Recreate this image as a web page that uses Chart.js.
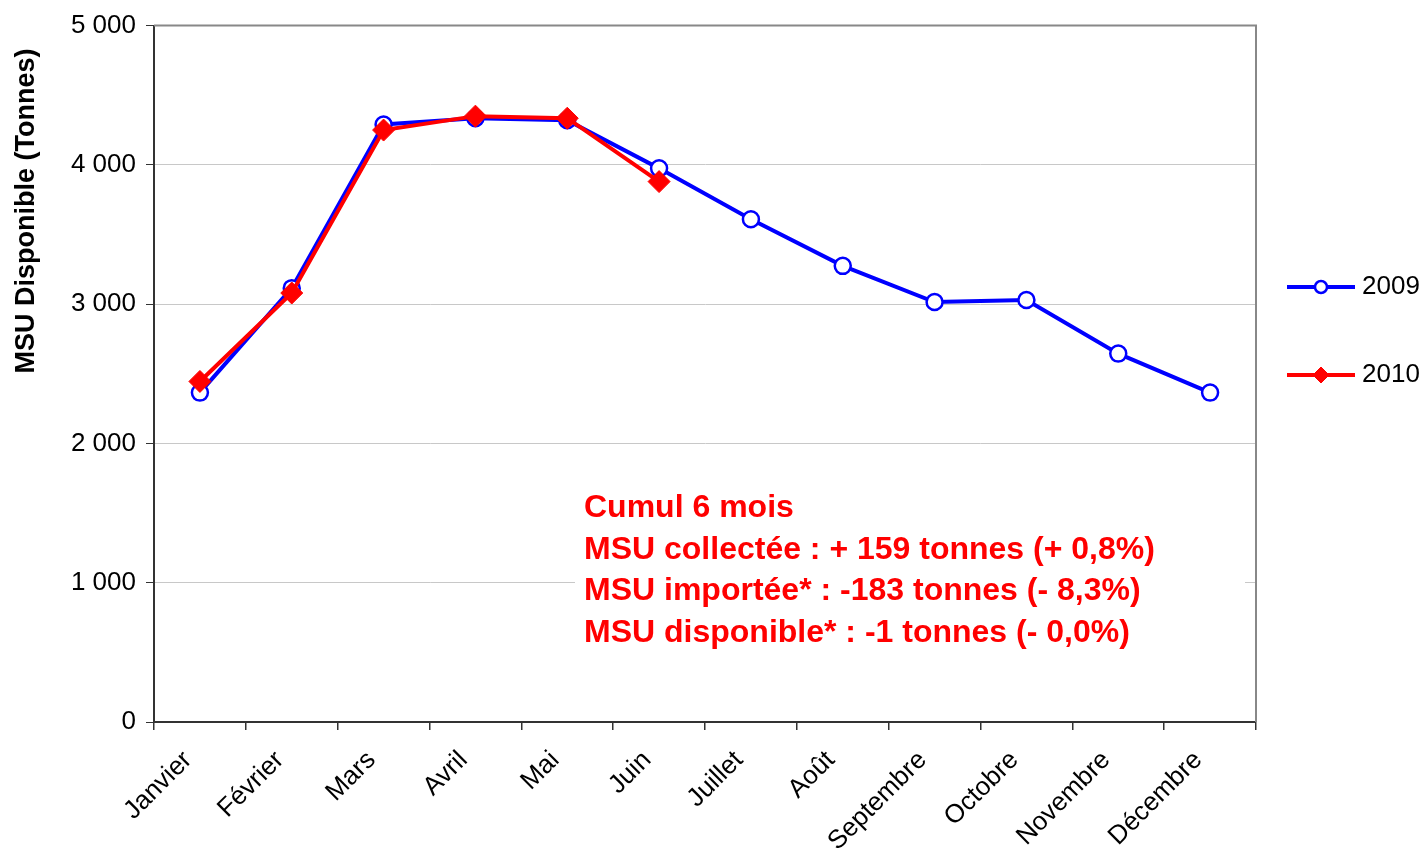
<!DOCTYPE html>
<html>
<head>
<meta charset="utf-8">
<script src="https://cdn.jsdelivr.net/npm/chart.js@4/dist/chart.umd.min.js"></script>
<style>
  body { margin: 0; background: #fff; }
  #wrap { width: 1424px; height: 849px; }
</style>
</head>
<body>
<div id="wrap"><canvas id="myChart" width="1424" height="849"></canvas></div>
<script>
// data
const months = ["Janvier", "Février", "Mars", "Avril", "Mai", "Juin", "Juillet", "Août", "Septembre", "Octobre", "Novembre", "Décembre"];
const msu2009 = [2365, 3115, 4290, 4335, 4320, 3975, 3610, 3275, 3015, 3030, 2645, 2365];
const msu2010 = [2445, 3080, 4250, 4350, 4335, 3880];
const yTicks = [0, 1000, 2000, 3000, 4000, 5000];
const yTitle = "MSU Disponible (Tonnes)";
const noteLines = [
  "Cumul 6 mois",
  "MSU collectée : + 159 tonnes (+ 0,8%)",
  "MSU importée* : -183 tonnes (- 8,3%)",
  "MSU disponible* : -1 tonnes (- 0,0%)"
];

const FONT = "Arial, 'Liberation Sans', sans-serif";
const fmt = (v) => String(v).replace(/\B(?=(\d{3})+(?!\d))/g, " ");

// white box + red text in the plot
const notePlugin = {
  id: "note",
  afterDatasetsDraw(chart) {
    const ctx = chart.ctx;
    const y = chart.scales.y;
    const top = y.getPixelForValue(1800);
    const bottom = y.getPixelForValue(560);
    ctx.save();
    ctx.fillStyle = "#fff";
    ctx.fillRect(575, top, 670, bottom - top);
    ctx.fillStyle = "#ff0000";
    ctx.font = "bold 32px " + FONT;
    ctx.textBaseline = "middle";
    noteLines.forEach((t, i) => ctx.fillText(t, 584, 508 + i * 41.7));
    ctx.restore();
  }
};

// grey frame on top and right, y title, legend on the right
const framePlugin = {
  id: "frame",
  afterDraw(chart) {
    const ctx = chart.ctx;
    const a = chart.chartArea;
    ctx.save();
    ctx.strokeStyle = "#888";
    ctx.lineWidth = 2;
    ctx.beginPath();
    ctx.moveTo(a.left, a.top);
    ctx.lineTo(a.right, a.top);
    ctx.lineTo(a.right, a.bottom);
    ctx.stroke();

    ctx.save();
    ctx.translate(27, 211);
    ctx.rotate(-Math.PI / 2);
    ctx.fillStyle = "#000";
    ctx.font = "bold 27px " + FONT;
    ctx.textAlign = "center";
    ctx.textBaseline = "middle";
    ctx.fillText(yTitle, 0, 0);
    ctx.restore();

    chart.data.datasets.forEach((ds, i) => {
      const ly = 287 + i * 88;
      ctx.strokeStyle = ds.borderColor;
      ctx.lineWidth = 4;
      ctx.beginPath();
      ctx.moveTo(1287, ly);
      ctx.lineTo(1355, ly);
      ctx.stroke();
      ctx.fillStyle = ds.pointBackgroundColor;
      ctx.strokeStyle = ds.pointBorderColor;
      ctx.lineWidth = ds.pointBorderWidth;
      Chart.helpers.drawPoint(ctx, {
        pointStyle: ds.pointStyle,
        radius: ds.pointStyle === "circle" ? 6 : 8,
        rotation: 0,
        borderWidth: ds.pointBorderWidth
      }, 1321, ly);
      ctx.fillStyle = "#000";
      ctx.font = "26px " + FONT;
      ctx.textBaseline = "middle";
      ctx.fillText(ds.label, 1362, ly);
    });
    ctx.restore();
  }
};

new Chart(document.getElementById("myChart"), {
  type: "line",
  data: {
    labels: months,
    datasets: [
      {
        label: "2009",
        data: msu2009,
        order: 1,
        borderColor: "#0000ff",
        borderWidth: 4,
        pointStyle: "circle",
        pointRadius: 8,
        pointBackgroundColor: "#ffffff",
        pointBorderColor: "#0000ff",
        pointBorderWidth: 2.5,
        tension: 0
      },
      {
        label: "2010",
        data: msu2010,
        order: 0,
        borderColor: "#ff0000",
        borderWidth: 4,
        pointStyle: "rectRot",
        pointRadius: 11,
        pointBackgroundColor: "#ff0000",
        pointBorderColor: "#ff0000",
        pointBorderWidth: 1,
        tension: 0
      }
    ]
  },
  options: {
    responsive: false,
    animation: false,
    layout: { padding: { left: 0, right: 168, top: 24, bottom: 0 } },
    plugins: {
      legend: { display: false },
      tooltip: { enabled: false }
    },
    scales: {
      x: {
        offset: true,
        grid: {
          offset: true,
          drawOnChartArea: false,
          drawTicks: true,
          tickLength: 8,
          tickColor: "#333",
          lineWidth: 1.5
        },
        border: { color: "#333", width: 2 },
        ticks: {
          color: "#000",
          font: { family: FONT, size: 26 },
          minRotation: 45,
          maxRotation: 45,
          padding: 15,
          labelOffset: -12
        },
        afterFit(scale) { scale.height = 127; }
      },
      y: {
        min: 0,
        max: 5000,
        afterBuildTicks(scale) { scale.ticks = yTicks.map((v) => ({ value: v })); },
        grid: {
          color: "#c8c8c8",
          lineWidth: 1,
          drawTicks: true,
          tickLength: 8,
          tickColor: "#333"
        },
        border: { color: "#333", width: 2 },
        ticks: {
          color: "#000",
          font: { family: FONT, size: 26 },
          padding: 10,
          callback: (v) => fmt(v)
        },
        afterFit(scale) { scale.width = 154; }
      }
    }
  },
  plugins: [notePlugin, framePlugin]
});
</script>
</body>
</html>
